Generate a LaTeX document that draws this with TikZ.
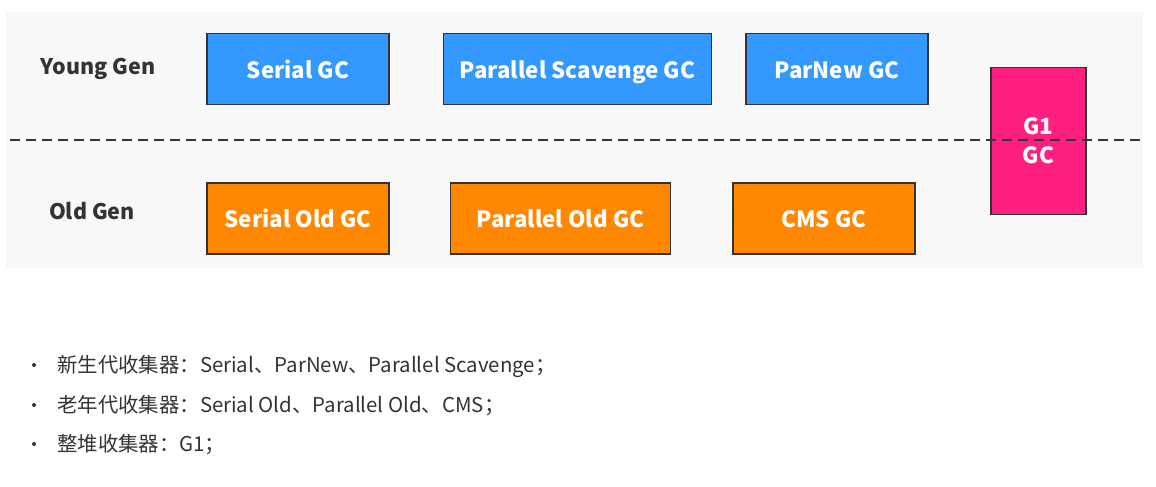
\documentclass[tikz,border=0pt]{standalone}
\usepackage{fontspec}
\setmainfont{Noto Sans CJK SC}
\usetikzlibrary{positioning}

\definecolor{panelgray}{HTML}{F7F8F7}
\definecolor{younggc}{HTML}{3399FF}
\definecolor{oldgc}{HTML}{FF8800}
\definecolor{wholegc}{HTML}{FF1F80}
\definecolor{inkgray}{HTML}{333333}

\begin{document}
\begin{tikzpicture}[
    x=1pt,
    y=-1pt,
    every node/.style={
        inner sep=0pt,
        align=center
    },
    collector/.style={
        draw=inkgray,
        line width=1.6pt,
        minimum height=71pt,
        text=white,
        font=\bfseries\fontsize{22.3}{29}\selectfont
    },
    young/.style={
        collector,
        fill=younggc,
        text height=18pt,
        text depth=0pt
    },
    old/.style={
        collector,
        fill=oldgc,
        text height=18pt,
        text depth=0pt
    },
    whole/.style={
        collector,
        fill=wholegc,
        minimum width=95pt,
        minimum height=147pt
    },
    genlabel/.style={
        text=inkgray,
        font=\bfseries\fontsize{21.5}{24}\selectfont
    },
    divider/.style={
        draw=inkgray,
        line width=1.8pt,
        dash pattern=on 10pt off 6pt
    },
    item/.style={
        anchor=base west,
        text=inkgray,
        font=\fontsize{20.4}{24}\selectfont
    },
    dot/.style={
        circle,
        fill=inkgray,
        minimum size=4pt
    }
]
\useasboundingbox (0,0) rectangle (1156,487);

% ============================================================
% Panel
% ============================================================

\fill[panelgray] (6,12) rectangle (1143,268);

% ============================================================
% Young generation
% ============================================================

\node[genlabel] (younglabel) at (98,69) {Young Gen};

\node[young, minimum width=182pt] (serial) at (298,69) {Serial GC};

\node[young, minimum width=268pt] (scavenge) at (577.5,69)
{Parallel Scavenge GC};

\node[young, minimum width=182pt] (parnew) at (837,69) {ParNew GC};

% ============================================================
% Old generation
% ============================================================

\node[genlabel] (oldlabel) at (92,211) {Old Gen};

\node[old, minimum width=182pt] (serialold) at (298,218.5)
{Serial Old GC};

\node[old, minimum width=220pt] (parallelold) at (560.5,218.5)
{Parallel Old GC};

\node[old, minimum width=182pt] (cms) at (824,218.5) {CMS GC};

% ============================================================
% Whole heap
% ============================================================

\node[whole] (g1) at (1038.5,141) {G1\\GC};

% Generation divider
\coordinate (divideL) at (10,140);
\coordinate (divideR) at (1143,140);

\draw[divider] (divideL) -- (divideR);

% ============================================================
% Summary list
% ============================================================

\node[dot] (dotyoung) at (34,365) {};
\node[dot] (dotold) at (34,405) {};
\node[dot] (dotwhole) at (34,444) {};

\node[item] (listyoung) at (57,372)
{新生代收集器：Serial、ParNew、Parallel Scavenge；};

\node[item] (listold) at (57,412)
{老年代收集器：Serial Old、Parallel Old、CMS；};

\node[item] (listwhole) at (57,451)
{整堆收集器：G1；};

\end{tikzpicture}
\end{document}
